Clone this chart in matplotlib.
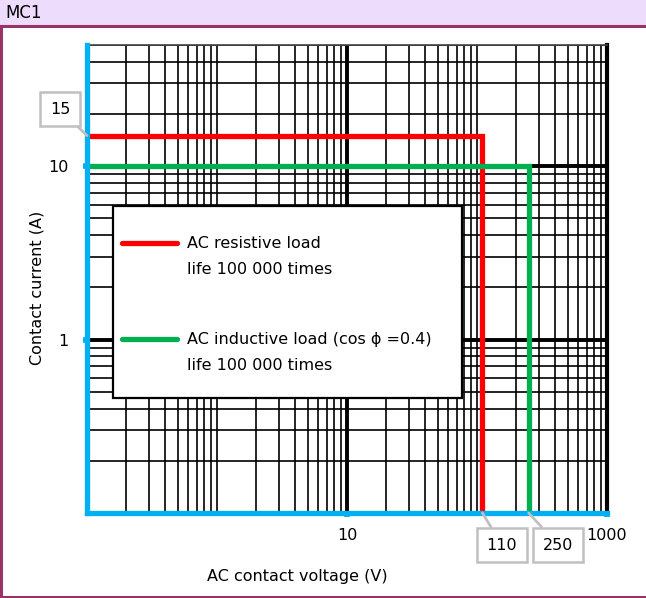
import matplotlib
matplotlib.use("Agg")
import matplotlib.pyplot as plt
from matplotlib.patches import Rectangle
from matplotlib.lines import Line2D
from matplotlib.ticker import LogLocator, NullFormatter, FixedLocator, FixedFormatter

plt.rcParams['font.family'] = ['DejaVu Sans', 'Noto Sans CJK JP']

# data
voltage_limits = [110, 250]          # V
current_limits = [15, 10]            # A
series_names = ["AC resistive load\nlife 100 000 times",
                "AC inductive load (cos \u03d5 =0.4)\nlife 100 000 times"]
series_colors = ['#ff0000', '#00b050']
x_range = [0.1, 1000]
y_range = [0.1, 50]
x_tick_vals = [10, 1000]
x_tick_labels = ['10', '1000']
y_tick_vals = [1, 10]
y_tick_labels = ['1', '10']

W, H = 646, 598
FS = 11.5
fig = plt.figure(figsize=(W / 100, H / 100), dpi=100)

# header band + frame
fig.patches.append(Rectangle((0, 1 - 25 / H), 1, 25 / H, transform=fig.transFigure,
                             facecolor='#eddcfb', edgecolor='none', zorder=0))
fig.lines.append(Line2D([0, 1], [1 - 26 / H, 1 - 26 / H], transform=fig.transFigure,
                        color='#993366', lw=2.2))
fig.lines.append(Line2D([1 / W, 1 / W], [0, 1 - 26 / H], transform=fig.transFigure,
                        color='#993366', lw=2.2))
fig.lines.append(Line2D([0, 1], [1 / H, 1 / H], transform=fig.transFigure,
                        color='#993366', lw=2.2))
fig.text(5 / W, 1 - 13 / H, 'MC1', fontsize=12, va='center', ha='left')

ax = fig.add_axes([87 / W, 1 - 513 / H, 520 / W, 468 / H])
ax.set_xscale('log')
ax.set_yscale('log')
ax.set_xlim(*x_range)
ax.set_ylim(*y_range)

# grid
ax.xaxis.set_minor_locator(LogLocator(base=10, subs=range(1, 10), numticks=20))
ax.yaxis.set_minor_locator(LogLocator(base=10, subs=range(1, 10), numticks=20))
ax.xaxis.set_minor_formatter(NullFormatter())
ax.yaxis.set_minor_formatter(NullFormatter())
ax.grid(which='minor', color='black', lw=1.2, zorder=1)
ax.tick_params(which='minor', length=0)
for v in [10]:
    ax.axvline(v, color='black', lw=2.8, zorder=2)
for v in [1, 10]:
    ax.axhline(v, color='black', lw=2.8, zorder=2)

ax.xaxis.set_major_locator(FixedLocator(x_tick_vals))
ax.xaxis.set_major_formatter(FixedFormatter(x_tick_labels))
ax.yaxis.set_major_locator(FixedLocator(y_tick_vals))
ax.yaxis.set_major_formatter(FixedFormatter(y_tick_labels))
ax.tick_params(which='major', length=3, width=4, color='#00b0f0', labelsize=FS)
ax.tick_params(axis='x', pad=8)
ax.tick_params(axis='y', pad=10)

for side in ['left', 'bottom']:
    ax.spines[side].set_color('#00b0f0')
    ax.spines[side].set_linewidth(3.8)
    ax.spines[side].set_zorder(5)
ax.spines['top'].set_color('#444444')
ax.spines['top'].set_linewidth(1.2)
ax.spines['right'].set_color('black')
ax.spines['right'].set_linewidth(3)

# limit curves
for xv, yv, c in zip(voltage_limits, current_limits, series_colors):
    ax.plot([x_range[0], xv, xv], [yv, yv, y_range[0]], color=c, lw=3.8,
            solid_joinstyle='miter', zorder=4)

# legend box
ax.add_patch(Rectangle((0.05, 0.2457), 0.671, 0.4103, transform=ax.transAxes,
                       facecolor='white', edgecolor='black', lw=1.6, zorder=6))
leg_y = [(513 - 243) / 468, (513 - 339) / 468]
for yy, name, c in zip(leg_y, series_names, series_colors):
    ax.add_line(Line2D([(122 - 87) / 520, (177 - 87) / 520], [yy, yy],
                       transform=ax.transAxes, color=c, lw=3.8,
                       solid_capstyle='round', zorder=7))
    ax.text((187 - 87) / 520, yy + 7 / 468, name, transform=ax.transAxes,
            fontsize=FS, va='top', ha='left', linespacing=1.95, zorder=7)

# callouts
box = dict(boxstyle='square,pad=0.6', facecolor='white', edgecolor='#c0c0c0', lw=1.8)
arrow = dict(arrowstyle='-', color='#c0c0c0', lw=2, shrinkA=0, shrinkB=0)
ax.annotate(str(current_limits[0]), xy=(x_range[0], current_limits[0]),
            xytext=(60, 1 - 109 / H), textcoords=('figure pixels', 'figure fraction'),
            fontsize=FS, ha='center', va='center', bbox=box, arrowprops=arrow, zorder=8,
            annotation_clip=False)
for xv, xt in zip(voltage_limits, [502, 558]):
    ax.annotate(str(xv), xy=(xv, y_range[0]), xytext=(xt, 1 - 545 / H),
                textcoords=('figure pixels', 'figure fraction'),
                fontsize=FS, ha='center', va='center', bbox=box, arrowprops=arrow,
                zorder=8, annotation_clip=False)

fig.text(297 / W, 1 - 577 / H, 'AC contact voltage (V)', fontsize=FS,
         ha='center', va='center')
fig.text(37 / W, 1 - 288 / H, 'Contact current (A)', fontsize=FS,
         ha='center', va='center', rotation=90)

fig.savefig('out.png', dpi=100)
